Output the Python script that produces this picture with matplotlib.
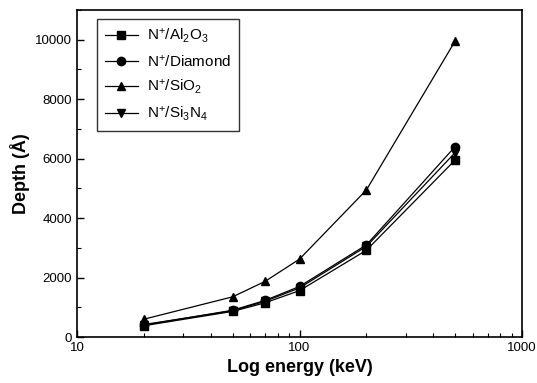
import matplotlib
matplotlib.use('Agg')
import matplotlib.pyplot as plt
from matplotlib.ticker import MultipleLocator, LogLocator, NullFormatter

plt.rcParams['font.family'] = ['Liberation Sans', 'DejaVu Sans']
plt.rcParams['mathtext.fontset'] = 'custom'
plt.rcParams['mathtext.rm'] = 'Liberation Sans'
plt.rcParams['mathtext.it'] = 'Liberation Sans'

energy = [20, 50, 70, 100, 200, 500]
al2o3 = [380, 860, 1150, 1560, 2920, 5950]
diamond = [400, 900, 1230, 1700, 3100, 6400]
sio2 = [600, 1350, 1870, 2620, 4950, 9950]
si3n4 = [420, 880, 1200, 1650, 3050, 6200]

labels = ['N$^{+}$/Al$_{2}$O$_{3}$', 'N$^{+}$/Diamond', 'N$^{+}$/SiO$_{2}$',
          'N$^{+}$/Si$_{3}$N$_{4}$']

fig = plt.figure(figsize=(5.37, 3.83), dpi=100)
ax = fig.add_axes([77/537, 1 - 337/383, 445/537, 327/383])

ax.plot(energy, al2o3, 'k-', marker='s', ms=6, lw=0.9, label=labels[0])
ax.plot(energy, diamond, 'k-', marker='o', ms=6, lw=0.9, label=labels[1])
ax.plot(energy, sio2, 'k-', marker='^', ms=6, lw=0.9, label=labels[2])
ax.plot(energy, si3n4, 'k-', marker='v', ms=6, lw=0.9, label=labels[3])

ax.set_xscale('log')
ax.set_xlim(10, 1000)
ax.set_ylim(0, 11000)
ax.yaxis.set_major_locator(MultipleLocator(2000))
ax.yaxis.set_minor_locator(MultipleLocator(1000))
ax.xaxis.set_minor_locator(LogLocator(base=10, subs=range(2, 10)))
ax.xaxis.set_minor_formatter(NullFormatter())
ax.set_xticks([10, 100, 1000])
ax.set_xticklabels(['10', '100', '1000'])

ax.tick_params(which='both', direction='in', top=False, right=False, labelsize=9.5)
ax.tick_params(which='major', length=5, width=1)
ax.tick_params(which='minor', length=3, width=0.8)
for s in ax.spines.values():
    s.set_linewidth(1.2)

ax.set_xlabel('Log energy (keV)', fontsize=13, fontweight='bold')
ax.set_ylabel('Depth (Å)', fontsize=13, fontweight='bold')

leg = ax.legend(loc='upper left', bbox_to_anchor=(0.045, 0.973), borderaxespad=0,
                fontsize=11, frameon=True, fancybox=False, edgecolor='black',
                handlelength=2.2, handletextpad=0.6, labelspacing=0.55,
                borderpad=0.5)
leg.get_frame().set_linewidth(1.0)

fig.savefig('out.png', dpi=100)
